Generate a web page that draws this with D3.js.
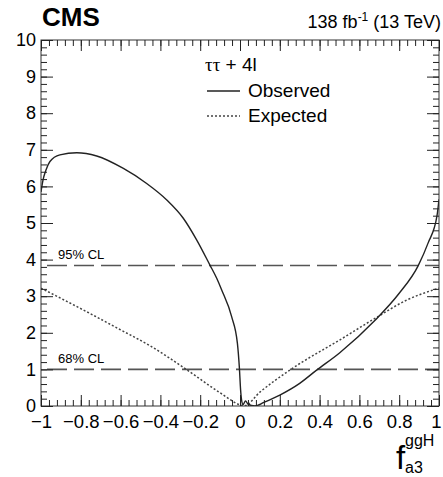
<!DOCTYPE html>
<html>
<head>
<meta charset="utf-8">
<script src="https://cdn.jsdelivr.net/npm/d3@7"></script>
<style>
  body { margin: 0; background: #fff; }
  text { font-family: "Liberation Sans", Arial, sans-serif; fill: #000; }
</style>
</head>
<body>
<svg width="443" height="477"></svg>
<script>
// observed scan, f_a3 vs -2 dlnL
var obsX = [-1, -0.99, -0.975, -0.955, -0.905, -0.82, -0.72, -0.586, -0.469, -0.368, -0.285, -0.218, -0.151, -0.117, -0.092, -0.042, -0.013, -0.003, 0.003, 0.008, 0.015, 0.028, 0.04, 0.075, 0.12, 0.2, 0.3, 0.385, 0.5, 0.68, 0.8, 0.895, 0.945, 0.99, 1];
var obsY = [5.85, 6.17, 6.45, 6.68, 6.86, 6.92, 6.83, 6.49, 6.08, 5.63, 5.13, 4.54, 3.85, 3.49, 3.17, 2.44, 1.71, 1.03, 0.44, 0.16, 0.04, 0.14, 0.05, 0.0, 0.1, 0.3, 0.62, 0.98, 1.45, 2.35, 3.08, 3.83, 4.45, 5.2, 5.65];

// expected scan
var expX = [-1, -0.8, -0.6, -0.45, -0.27, -0.1, 0, 0.02, 0.1, 0.25, 0.5, 0.68, 0.84, 1];
var expY = [3.22, 2.66, 2.08, 1.64, 1.0, 0.36, 0.03, 0, 0.38, 0.98, 1.8, 2.4, 2.9, 3.22];

var clValues = [1, 3.84];
var clLabels = ["68% CL", "95% CL"];

var xTicks = [-1, -0.8, -0.6, -0.4, -0.2, 0, 0.2, 0.4, 0.6, 0.8, 1];
var xTickLabels = ["\u22121", "\u22120.8", "\u22120.6", "\u22120.4", "\u22120.2", "0", "0.2", "0.4", "0.6", "0.8", "1"];
var yTicks = [0, 1, 2, 3, 4, 5, 6, 7, 8, 9, 10];

var svg = d3.select("svg");
var frameL = 41, frameR = 439, frameT = 40, frameB = 406;

var x = d3.scaleLinear().domain([-1, 1]).range([frameL, frameR]);
var y = d3.scaleLinear().domain([0, 10]).range([frameB, frameT]);

var xMinor = d3.range(0, 51).map(i => +(-1 + i * 0.04).toFixed(2));
var yMinor = d3.range(0, 51).map(i => +(i * 0.2).toFixed(1));

svg.append("defs").append("clipPath").attr("id", "frame")
  .append("rect").attr("x", frameL).attr("y", frameT)
  .attr("width", frameR - frameL).attr("height", frameB - frameT);

// CL lines
var cl = svg.append("g");
cl.selectAll("line").data(clValues).enter().append("line")
  .attr("x1", frameL).attr("x2", frameR)
  .attr("y1", d => y(d)).attr("y2", d => y(d))
  .attr("stroke", "#555").attr("stroke-width", 1.6)
  .attr("stroke-dasharray", "20,7").attr("stroke-dashoffset", -6);
cl.selectAll("text").data(clValues).enter().append("text")
  .attr("x", 58).attr("y", d => y(d) - 6)
  .style("font-size", "13px")
  .text((d, i) => clLabels[i]);

var line = d3.line().x(d => x(d[0])).y(d => y(d[1])).curve(d3.curveMonotoneX);

var plot = svg.append("g").attr("clip-path", "url(#frame)");
plot.append("path")
  .attr("d", line(expX.map((v, i) => [v, expY[i]])))
  .attr("fill", "none").attr("stroke", "#444").attr("stroke-width", 1.5)
  .attr("stroke-dasharray", "2,2");
plot.append("path")
  .attr("d", line(obsX.map((v, i) => [v, obsY[i]])))
  .attr("fill", "none").attr("stroke", "#222").attr("stroke-width", 1.4);

// frame
svg.append("rect").attr("x", frameL).attr("y", frameT)
  .attr("width", frameR - frameL).attr("height", frameB - frameT)
  .attr("fill", "none").attr("stroke", "#333").attr("stroke-width", 1);

function styleAxis(g) {
  g.select(".domain").remove();
  g.selectAll(".tick line").attr("stroke", "#222");
}

// x axes
svg.append("g").attr("transform", "translate(0," + frameB + ")")
  .call(d3.axisBottom(x).tickValues(xMinor).tickSize(-6).tickFormat("")).call(styleAxis);
svg.append("g").attr("transform", "translate(0," + frameB + ")")
  .call(d3.axisBottom(x).tickValues(xTicks).tickSize(-11)
    .tickFormat((d, i) => xTickLabels[i]))
  .call(styleAxis)
  .call(g => g.selectAll("text").attr("dy", null).attr("y", 22)
    .attr("x", d => d === 1 ? -3 : 0)
    .style("font-size", "18.5px").style("font-family", "Liberation Sans, Arial, sans-serif").attr("fill", "#000"));
svg.append("g").attr("transform", "translate(0," + frameT + ")")
  .call(d3.axisTop(x).tickValues(xMinor).tickSize(-6).tickFormat("")).call(styleAxis);
svg.append("g").attr("transform", "translate(0," + frameT + ")")
  .call(d3.axisTop(x).tickValues(xTicks).tickSize(-11).tickFormat("")).call(styleAxis);

// y axes
svg.append("g").attr("transform", "translate(" + frameL + ",0)")
  .call(d3.axisLeft(y).tickValues(yMinor).tickSize(-6).tickFormat("")).call(styleAxis);
svg.append("g").attr("transform", "translate(" + frameL + ",0)")
  .call(d3.axisLeft(y).tickValues(yTicks).tickSize(-12).tickFormat(d3.format("d")))
  .call(styleAxis)
  .call(g => g.selectAll("text").attr("x", -5)
    .style("font-size", "18px").style("font-family", "Liberation Sans, Arial, sans-serif").attr("fill", "#000"));
svg.append("g").attr("transform", "translate(" + frameR + ",0)")
  .call(d3.axisRight(y).tickValues(yMinor).tickSize(-6).tickFormat("")).call(styleAxis);
svg.append("g").attr("transform", "translate(" + frameR + ",0)")
  .call(d3.axisRight(y).tickValues(yTicks).tickSize(-12).tickFormat("")).call(styleAxis);

// titles
svg.append("text").attr("x", 42).attr("y", 26)
  .style("font-size", "26px").style("font-weight", "bold").text("CMS");
var lumi = svg.append("text").attr("x", 441).attr("y", 28)
  .attr("text-anchor", "end").style("font-size", "18px");
lumi.append("tspan").text("138 fb");
lumi.append("tspan").attr("dy", -7).style("font-size", "12px").text("-1");
lumi.append("tspan").attr("dy", 7).text(" (13 TeV)");

// legend
var leg = svg.append("g");
var tt = leg.append("text").attr("x", 205).attr("y", 71).style("font-size", "19px");
tt.append("tspan").style("font-family", "Liberation Serif, DejaVu Serif, serif").text("\u03c4\u03c4");
tt.append("tspan").text(" + 4l");
leg.append("line").attr("x1", 207).attr("x2", 240).attr("y1", 91).attr("y2", 91)
  .attr("stroke", "#222").attr("stroke-width", 1.4);
leg.append("text").attr("x", 248).attr("y", 97).style("font-size", "19px").text("Observed");
leg.append("line").attr("x1", 207).attr("x2", 240).attr("y1", 116).attr("y2", 116)
  .attr("stroke", "#444").attr("stroke-width", 1.4).attr("stroke-dasharray", "2,2");
leg.append("text").attr("x", 248).attr("y", 122).style("font-size", "19px").text("Expected");

// x-axis title
var xt = svg.append("g");
xt.append("text").attr("x", 396).attr("y", 469).style("font-size", "33px").text("f");
xt.append("text").attr("x", 405).attr("y", 446).style("font-size", "16px").text("ggH");
xt.append("text").attr("x", 405).attr("y", 473).style("font-size", "16px").text("a3");
</script>
</body>
</html>
